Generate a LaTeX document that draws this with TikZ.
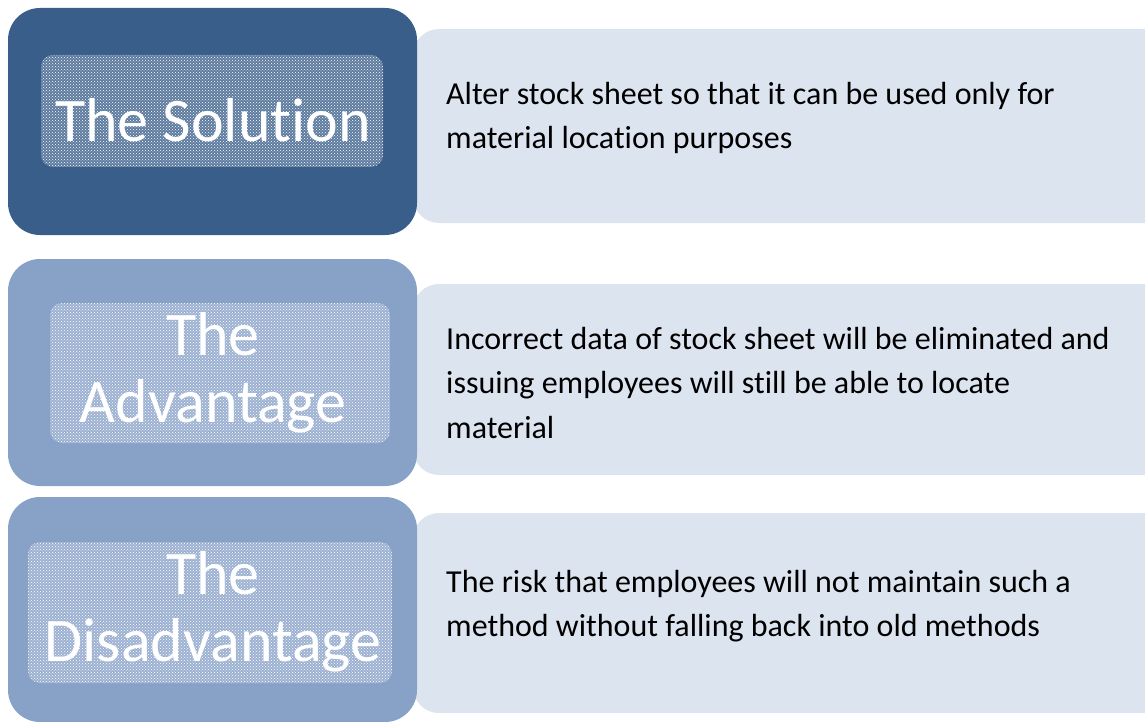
\documentclass[tikz,border=0pt]{standalone}
\usepackage{fontspec}
\setmainfont[Ligatures={NoCommon}]{Carlito}
\usetikzlibrary{patterns}
\definecolor{darkblue}{HTML}{3A5E8A}
\definecolor{midblue}{HTML}{87A1C7}
\definecolor{paleblue}{HTML}{DCE4F0}
\tikzset{
  x=1pt,y=-1pt,
  leftbox/.style={rounded corners=32pt},
  rightbox/.style={fill=paleblue,rounded corners=26pt},
  dotbox/.style={rounded corners=12pt,fill=white,fill opacity=0.18},
  dotpat/.style={rounded corners=12pt,pattern=crosshatch dots,pattern color=white},
  head/.style={text=white,font=\fontsize{62}{67}\selectfont,align=center,inner sep=0pt},
  body/.style={anchor=west,align=left,inner sep=0pt,font=\fontsize{32}{44.5}\selectfont,text=black}
}
\begin{document}
\begin{tikzpicture}
\useasboundingbox (0,0) rectangle (1145,722);
\clip (0,0) rectangle (1145,722);
% right boxes
\fill[rightbox] (413,29) rectangle (1175,223);
\fill[rightbox] (413,284) rectangle (1175,475);
\fill[rightbox] (413,513) rectangle (1175,713);
% left boxes
\fill[leftbox,fill=darkblue] (8,8) rectangle (417,235);
\fill[leftbox,fill=midblue] (8,259) rectangle (417,486);
\fill[leftbox,fill=midblue] (8,497) rectangle (417,722);
% dotted inner panels
\fill[dotbox] (41,55) rectangle (383,167);
\fill[dotpat] (41,55) rectangle (383,167);
\fill[dotbox] (50,303) rectangle (390,443);
\fill[dotpat] (50,303) rectangle (390,443);
\fill[dotbox] (28,542) rectangle (392,683);
\fill[dotpat] (28,542) rectangle (392,683);
% headings
\node[head] (h1) at (213,120) {The Solution};
\node[head] (h2) at (213,373) {The\\Advantage};
\node[head] (h3) at (213,612) {The\\Disadvantage};
% body texts
\node[body] (t1) at (446,118) {Alter stock sheet so that it can be used only for\\material location purposes};
\node[body] (t2) at (446,383) {Incorrect data of stock sheet will be eliminated and\\issuing employees will still be able to locate\\material};
\node[body] (t3) at (446,606) {The risk that employees will not maintain such a\\method without falling back into old methods};
\end{tikzpicture}
\end{document}
